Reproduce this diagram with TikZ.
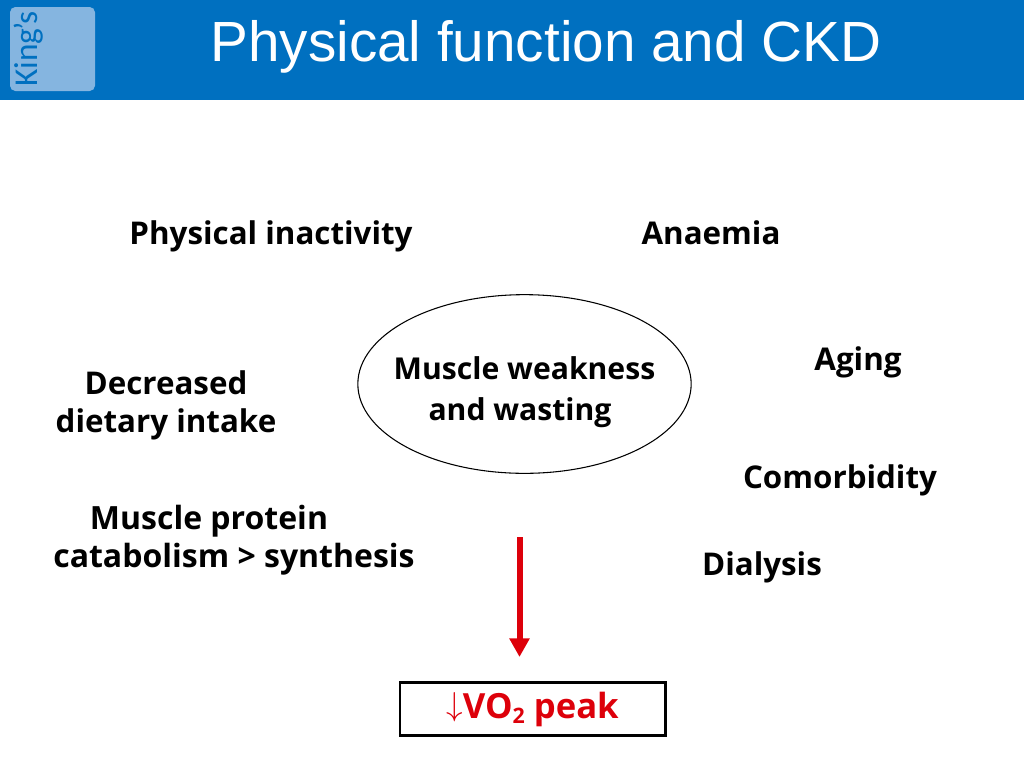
\documentclass[tikz,border=0pt]{standalone}
\usepackage{fontspec}
\setmainfont{Liberation Sans}
\newfontfamily\labelfont{Open Sans}[BoldFont={Open Sans Bold}]
\newfontfamily\logofont{Carlito}
\usepackage{tikz}
\usetikzlibrary{shapes.geometric, arrows.meta}
\definecolor{kingsblue}{RGB}{0,112,192}
\definecolor{kingslight}{RGB}{133,181,224}
\definecolor{peakred}{RGB}{221,0,10}

\begin{document}
\begin{tikzpicture}[x=0.75pt,y=-0.75pt,
	cause/.style={font=\labelfont\bfseries\fontsize{23.5}{28.5}\selectfont,align=center,inner sep=0pt},
	>={Triangle[length=14pt,width=14.5pt]},
	semithick]
	\useasboundingbox (0,0) rectangle (1024,768);
	\fill[kingsblue] (0,0) rectangle (1024,100);
	\fill[kingslight,rounded corners=4pt] (10,7) rectangle (95,91);
	\node[rotate=90,text=kingsblue,font=\logofont\fontsize{25}{30}\selectfont,inner sep=0pt] (logo) at (29,49) {King\kern-1.5pt’s};
	\node[text=white,font=\fontsize{42.5}{50}\selectfont,inner sep=0pt] (title) at (546,47) {Physical function and CKD};

	\node[cause] (inactivity) at (271,236) {Physical inactivity};
	\node[cause] (anaemia) at (711,233) {Anaemia};
	\node[cause] (aging) at (858,362) {Aging};
	\node[cause] (comorbidity) at (840,480) {Comorbidity};
	\node[cause] (dialysis) at (762,567) {Dialysis};
	\node[cause] (intake) at (166,405) {Decreased\\dietary intake};
	\node[cause,font=\labelfont\bfseries\fontsize{24}{28.5}\selectfont] (protein) at (234,540) {\hspace*{-37.5pt}Muscle protein\\catabolism > synthesis};

	\node[ellipse,draw,thick,minimum width=250pt,minimum height=134pt,inner sep=0pt] (muscle) at (524.5,384) {};
	\node[cause,font=\labelfont\bfseries\fontsize{22.6}{30.75}\selectfont] (weakness) at (524.5,392) {Muscle weakness\\and wasting\hspace*{6.75pt}};

	\node[draw,line width=2pt,minimum width=199pt,minimum height=40pt,inner sep=0pt,text=peakred,font=\labelfont\bfseries\fontsize{26}{28}\selectfont] (peak) at (532.5,709) {\raisebox{2pt}{$\downarrow$}VO\raisebox{-4pt}{\fontsize{16}{16}\selectfont 2} peak};

	\coordinate (from) at (519.5,537);
	\coordinate (to) at (519.5,657);
	\draw[->,peakred,line width=4.5pt] (from) -- (to);
\end{tikzpicture}
\end{document}
